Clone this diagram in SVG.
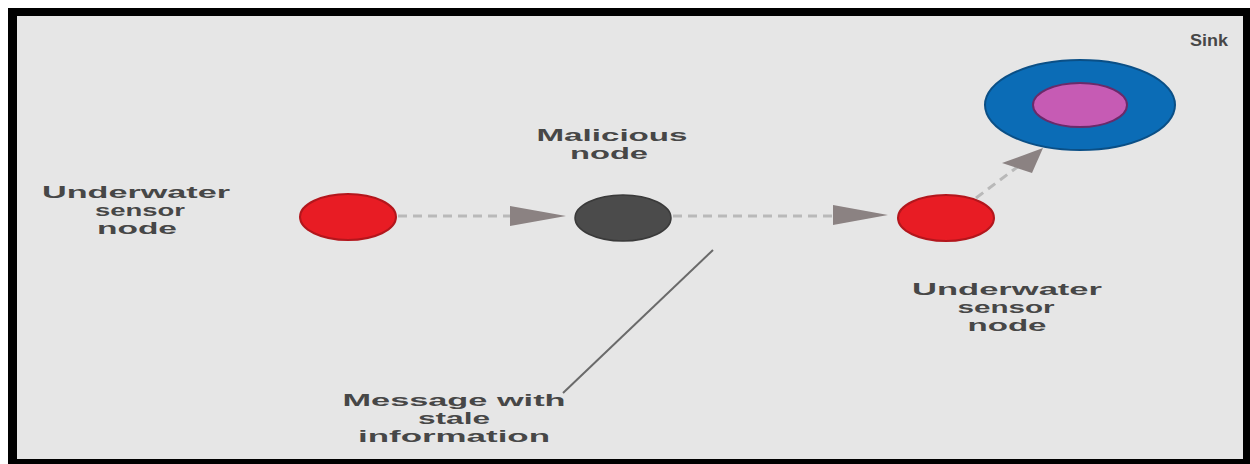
<svg xmlns="http://www.w3.org/2000/svg" width="1250" height="464" viewBox="0 0 1250 464">
<style>
.lbl{font-family:"Liberation Sans",Arial,sans-serif;font-weight:700;font-size:16px;fill:#474747;text-anchor:middle}
.dash{stroke:#b9b9b9;stroke-width:3;stroke-dasharray:9 6;fill:none}
.head{fill:#8b8282}
.red{fill:#e81c24;stroke:#b3161c;stroke-width:2}
</style>
<rect x="0" y="0" width="1250" height="464" fill="#ffffff"/>
<rect x="8" y="8" width="1242" height="456" fill="#000000"/>
<rect x="17" y="16" width="1226" height="443" fill="#e6e6e6"/>
<g id="connectors">
<line class="dash" x1="398" y1="216" x2="512" y2="216"/>
<polygon class="head" points="510,206 566,216 510,226"/>
<line class="dash" x1="673" y1="216" x2="834" y2="216"/>
<polygon class="head" points="833,205 888,215 833,225"/>
<line class="dash" x1="976" y1="198" x2="1020" y2="165"/>
<polygon class="head" points="1002,163 1043,148 1032,173"/>
<line x1="713" y1="250" x2="563" y2="393" stroke="#6a6a6a" stroke-width="2"/>
</g>
<g id="node-sensor-left">
<ellipse class="red" cx="348" cy="217" rx="48" ry="23"/>
<text class="lbl" x="136" y="198" textLength="188" lengthAdjust="spacingAndGlyphs">Underwater</text>
<text class="lbl" x="140" y="216" textLength="90" lengthAdjust="spacingAndGlyphs">sensor</text>
<text class="lbl" x="137" y="234" textLength="80" lengthAdjust="spacingAndGlyphs">node</text>
</g>
<g id="node-malicious">
<ellipse cx="623" cy="218" rx="48" ry="23" fill="#4b4b4b" stroke="#3a3a3a" stroke-width="1.5"/>
<text class="lbl" x="612" y="141" textLength="151" lengthAdjust="spacingAndGlyphs">Malicious</text>
<text class="lbl" x="609" y="159" textLength="78" lengthAdjust="spacingAndGlyphs">node</text>
</g>
<g id="node-sensor-right">
<ellipse class="red" cx="946" cy="218" rx="48" ry="23"/>
<text class="lbl" x="1007" y="295" textLength="190" lengthAdjust="spacingAndGlyphs">Underwater</text>
<text class="lbl" x="1006" y="313" textLength="97" lengthAdjust="spacingAndGlyphs">sensor</text>
<text class="lbl" x="1007" y="331" textLength="79" lengthAdjust="spacingAndGlyphs">node</text>
</g>
<g id="node-sink">
<ellipse cx="1080" cy="105" rx="95" ry="45" fill="#0b6cb6" stroke="#0a4f86" stroke-width="2"/>
<ellipse cx="1080" cy="105" rx="47" ry="22" fill="#c65bb4" stroke="#6a2a6a" stroke-width="2"/>
<text class="lbl" x="1209" y="46" textLength="38" lengthAdjust="spacingAndGlyphs">Sink</text>
</g>
<g id="note-message">
<text class="lbl" x="454" y="406" textLength="223" lengthAdjust="spacingAndGlyphs">Message with</text>
<text class="lbl" x="454" y="424" textLength="72" lengthAdjust="spacingAndGlyphs">stale</text>
<text class="lbl" x="454" y="442" textLength="192" lengthAdjust="spacingAndGlyphs">information</text>
</g>
</svg>
